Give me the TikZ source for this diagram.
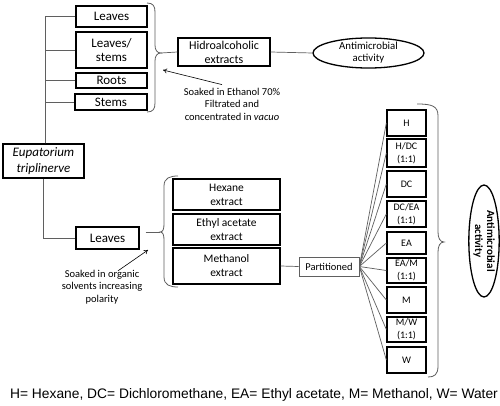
\documentclass[tikz,border=0pt]{standalone}
\usepackage{fontspec}
\setmainfont{Carlito}
\newfontfamily\legendfont{Liberation Sans}
\usetikzlibrary{shapes.geometric,arrows.meta}
\definecolor{linegray}{RGB}{95,95,95}
\tikzset{
  bx/.style={draw=black, line width=1.3pt, inner sep=0pt, align=center},
  big/.style={font=\fontsize{13}{13}\selectfont},
  mid/.style={font=\fontsize{11.5}{14}\selectfont},
  sm/.style={font=\fontsize{10}{13}\selectfont},
  conn/.style={draw=linegray, line width=0.7pt},
  brc/.style={draw=linegray, line width=0.8pt},
  note/.style={align=center, inner sep=0pt, font=\fontsize{10.5}{12.5}\selectfont},
  oval/.style={ellipse, draw=black, line width=1.3pt, inner sep=0pt, align=center, font=\fontsize{10.8}{12}\selectfont},
  arr/.style={draw=black, line width=0.6pt, -{To[length=4pt,width=5pt]}}
}
\begin{document}
\begin{tikzpicture}[x=1pt,y=-1pt]
\useasboundingbox[fill=white] (0,0) rectangle (500,406);
% top branch
\node[bx,big,minimum width=71pt,minimum height=21pt] (lv1) at (111.5,16.5) {Leaves};
\node[bx,big,minimum width=71pt,minimum height=36pt,font=\fontsize{13}{13.5}\selectfont] (ls) at (111.5,50) {Leaves/\\stems};
\node[bx,big,minimum width=71pt,minimum height=15pt] (rt) at (111.5,80.5) {Roots};
\node[bx,big,minimum width=72pt,minimum height=16pt] (st) at (111,102) {Stems};
\node[bx,big,minimum width=81pt,minimum height=34pt,font=\fontsize{13}{16}\selectfont\itshape] (eup) at (43.5,161) {Eupatorium\\triplinerve};
\node[bx,font=\fontsize{12}{14}\selectfont,minimum width=92pt,minimum height=28pt] (hid) at (224,52) {Hidroalcoholic\\extracts};
\node[oval,minimum width=111pt,minimum height=30pt] (am1) at (368.5,53) {Antimicrobial\\activity};
\draw[conn] ([xshift=2pt]eup.north) |- (lv1.west);
\draw[conn] ([xshift=2pt]eup.north) |- (ls.west);
\draw[conn] ([xshift=2pt]eup.north) |- (rt.west);
\draw[conn] ([xshift=2pt]eup.north) |- (st.west);
\draw[brc] (147,3) .. controls (153,3) and (155,6) .. (155,12) -- (155,45)
  .. controls (155,50) and (157,53) .. (161,53) .. controls (157,53) and (155,56) .. (155,61)
  -- (155,103) .. controls (155,109) and (153,112) .. (147,112);
\coordinate (tip1) at (161,53);
\draw[conn] (tip1) -- (hid.west);
\draw[conn] (hid.east) -- (am1.west);
\node[note] (soak1) at (232,104) {Soaked in Ethanol 70\%\\Filtrated and\\concentrated in \textit{vacuo}};
\coordinate (a1end) at (163,70);
\draw[arr] ([xshift=-10pt,yshift=3pt]soak1.north) -- (a1end);
% bottom branch
\node[bx,big,minimum width=63pt,minimum height=22pt] (lv2) at (107.5,238) {Leaves};
\draw[conn] (eup.south) |- (lv2.west);
\node[bx,mid,minimum width=107pt,minimum height=31pt] (hex) at (226.5,194.5) {Hexane\\extract};
\node[bx,mid,minimum width=107pt,minimum height=31pt] (eth) at (226.5,229.5) {Ethyl acetate\\extract};
\node[bx,mid,minimum width=107pt,minimum height=36pt] (met) at (226.5,266) {Methanol\\extract};
\draw[brc] (178,176) .. controls (170,176) and (164,178) .. (164,186) -- (164,224)
  .. controls (164,229) and (163,232) .. (160,232) .. controls (163,232) and (164,235) .. (164,240)
  -- (164,277) .. controls (164,285) and (170,287) .. (178,287);
\coordinate (tip2) at (160,232);
\draw[conn] ([xshift=6pt]lv2.east |- tip2) -- (tip2);
\node[note] (soak2) at (102,287) {Soaked in organic\\solvents increasing\\polarity};
\coordinate (a2end) at (148,250);
\draw[arr] ([xshift=16pt,yshift=-1pt]soak2.north) -- (a2end);
\node[draw=linegray,line width=0.7pt,inner sep=0pt,minimum width=60pt,minimum height=19pt,font=\fontsize{10.5}{12}\selectfont] (part) at (329,266.5) {Partitioned};
\draw[conn] (met.east) -- (part.west);
% fractions
\node[bx,sm,minimum width=39pt,minimum height=26pt] (f1) at (406.5,123) {H};
\node[bx,sm,minimum width=39pt,minimum height=28pt] (f2) at (406.5,153) {H/DC\\(1:1)};
\node[bx,sm,minimum width=39pt,minimum height=26pt] (f3) at (406.5,184) {DC};
\node[bx,sm,minimum width=39pt,minimum height=26pt] (f4) at (406.5,214) {DC/EA\\(1:1)};
\node[bx,sm,minimum width=39pt,minimum height=22pt] (f5) at (406.5,243) {EA};
\node[bx,sm,minimum width=39pt,minimum height=25pt] (f6) at (406.5,270.5) {EA/M\\(1:1)};
\node[bx,sm,minimum width=39pt,minimum height=26pt] (f7) at (406.5,300) {M};
\node[bx,sm,minimum width=39pt,minimum height=25pt] (f8) at (406.5,329.5) {M/W\\(1:1)};
\node[bx,sm,minimum width=39pt,minimum height=26pt] (f9) at (406.5,360) {W};
\foreach \f in {f1,f2,f3,f4,f5,f6,f7,f8,f9} \draw[conn] (part.east) -- (\f.west);
\draw[brc] (417,104) .. controls (432,104) and (438,106) .. (438,116) -- (438,232)
  .. controls (438,238) and (440,242) .. (444,242) .. controls (440,242) and (438,246) .. (438,252)
  -- (438,366) .. controls (438,375) and (434,377) .. (428,377);
\node[oval,rotate=-90,minimum width=112pt,minimum height=28pt,font=\fontsize{11}{12}\selectfont\bfseries] (am2) at (484,241) {Antimicrobial\\activity};
% legend
\node[inner sep=0pt,font=\legendfont\fontsize{13.8}{15}\selectfont] (leg) at (254,395) {H= Hexane, DC= Dichloromethane, EA= Ethyl acetate, M= Methanol, W= Water};
\end{tikzpicture}
\end{document}
